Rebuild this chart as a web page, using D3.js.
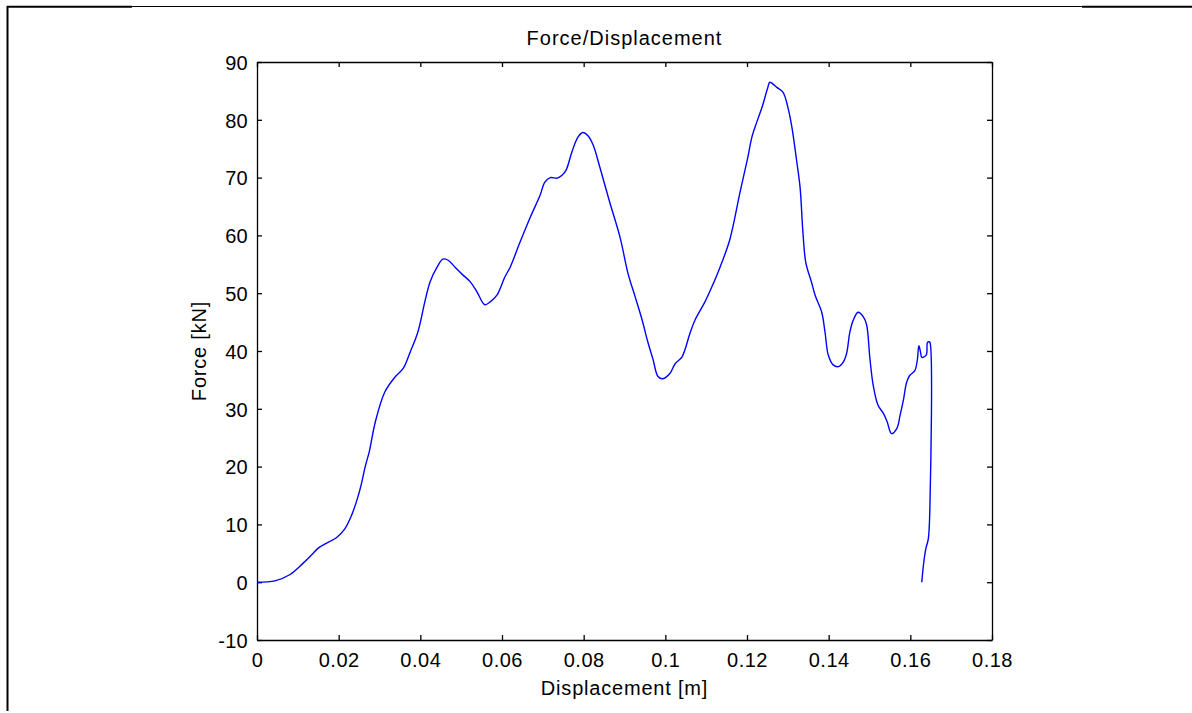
<!DOCTYPE html>
<html>
<head>
<meta charset="utf-8">
<script src="https://cdn.jsdelivr.net/npm/d3@7"></script>
<style>
  html, body { margin: 0; padding: 0; background: #fff; }
  svg { display: block; }
  text { font-family: "Liberation Sans", Arial, sans-serif; fill: #000; }
</style>
</head>
<body>
<svg id="chart" width="1192" height="713"></svg>
<script>
// ---- data ----
const displacement = [
  0, 0.0044, 0.0081, 0.0113, 0.0134, 0.0150, 0.0175, 0.0195, 0.0215, 0.0232,
  0.0246, 0.0256, 0.0265, 0.0275, 0.0290, 0.0313, 0.0338, 0.0358, 0.0375, 0.0394,
  0.0411, 0.0424, 0.0441, 0.0455, 0.0468, 0.0485, 0.0502, 0.0522, 0.0539, 0.0558,
  0.0571, 0.0588, 0.0607, 0.0620, 0.0644, 0.0669, 0.0693, 0.0705, 0.0718, 0.0735,
  0.0747, 0.0757, 0.0771, 0.0786, 0.0798, 0.0810, 0.0823, 0.0840, 0.0864, 0.0889,
  0.0909, 0.0926, 0.0943, 0.0957, 0.0970, 0.0982, 0.0994, 0.1011, 0.1024, 0.1041,
  0.1060, 0.1073, 0.1097, 0.1114, 0.1134, 0.1158, 0.1183, 0.1202, 0.1212, 0.1224,
  0.1237, 0.1251, 0.1256, 0.1273, 0.1288, 0.1300, 0.1310, 0.1322, 0.1330, 0.1337,
  0.1344, 0.1358, 0.1367, 0.1383, 0.1391, 0.1399, 0.1411, 0.1424, 0.1436, 0.1444,
  0.1452, 0.1460, 0.1472, 0.1485, 0.1493, 0.1501, 0.1509, 0.1521, 0.1534, 0.1543,
  0.1554, 0.1567, 0.1575, 0.1583, 0.1591, 0.1599, 0.1611, 0.1617, 0.1621, 0.1625,
  0.1628, 0.1636, 0.1640, 0.1642, 0.1646, 0.1648, 0.1648, 0.1644, 0.1638, 0.1633,
  0.1628
];
const force = [
  0, 0.24, 1.33, 3.3, 4.75, 5.9, 6.93, 7.74, 9.24, 11.65,
  14.5, 17.1, 20.0, 22.6, 27.8, 32.9, 35.5, 37.0, 39.8, 43.3,
  48.5, 52.0, 54.5, 55.9, 55.7, 54.5, 53.3, 52.0, 50.2, 48.0,
  48.5, 49.7, 52.8, 54.5, 58.8, 63.1, 66.9, 69.2, 70.0, 69.9,
  70.4, 71.3, 74.4, 77.0, 77.8, 77.3, 75.7, 71.7, 65.7, 59.7,
  53.3, 49.4, 45.4, 41.6, 38.5, 35.6, 35.2, 36.1, 37.8, 39.0,
  43.0, 45.4, 48.5, 51.1, 54.5, 59.3, 67.5, 73.5, 77.0, 79.6,
  82.2, 85.6, 86.5, 85.6, 84.8, 82.2, 78.7, 72.7, 68.3, 60.5,
  55.3, 51.9, 49.6, 46.7, 43.3, 39.3, 37.6, 37.3, 38.1, 39.6,
  43.3, 45.3, 46.7, 45.9, 44.5, 38.7, 34.1, 30.6, 29.2, 27.8,
  25.7, 26.6, 28.9, 31.5, 34.6, 35.8, 36.6, 38.4, 40.9, 39.8,
  38.9, 39.1, 39.5, 41.5, 41.6, 41.5, 13.3, 7.5, 5.8, 3.5,
  0.0
];
const xTicks = [0, 0.02, 0.04, 0.06, 0.08, 0.1, 0.12, 0.14, 0.16, 0.18];
const xTickLabels = ["0", "0.02", "0.04", "0.06", "0.08", "0.1", "0.12", "0.14", "0.16", "0.18"];
const yTicks = [-10, 0, 10, 20, 30, 40, 50, 60, 70, 80, 90];
const yTickLabels = ["-10", "0", "10", "20", "30", "40", "50", "60", "70", "80", "90"];
const titleText = "Force/Displacement";
const xLabelText = "Displacement [m]";
const yLabelText = "Force [kN]";

// ---- layout ----
const L = 257, R = 992, T = 62, B = 640;
const svg = d3.select("#chart");

// page frame lines
const frame = svg.append("g");
frame.append("line").attr("x1", 7).attr("x2", 1192).attr("y1", 6.5).attr("y2", 6.5)
  .attr("stroke", "#000").attr("stroke-width", 1);
frame.append("line").attr("x1", 7).attr("x2", 132).attr("y1", 6.8).attr("y2", 6.8)
  .attr("stroke", "#000").attr("stroke-width", 2);
frame.append("line").attr("x1", 1082).attr("x2", 1192).attr("y1", 6.8).attr("y2", 6.8)
  .attr("stroke", "#000").attr("stroke-width", 2);
frame.append("line").attr("x1", 7.5).attr("x2", 7.5).attr("y1", 6).attr("y2", 711)
  .attr("stroke", "#000").attr("stroke-width", 2);

const x = d3.scaleLinear().domain([0, 0.18]).range([L, R]);
const y = d3.scaleLinear().domain([-10, 90]).range([B, T]);

const fontSize = 20;

// bottom axis
const gx = svg.append("g").attr("transform", `translate(0,${B})`)
  .call(d3.axisBottom(x).tickValues(xTicks).tickSizeInner(-5).tickSizeOuter(0)
    .tickFormat((d, i) => xTickLabels[i]));
gx.selectAll("text").attr("y", 27).attr("dy", 0).style("font-size", fontSize + "px")
  .style("letter-spacing", "0.5px");

// top axis
svg.append("g").attr("transform", `translate(0,${T})`)
  .call(d3.axisTop(x).tickValues(xTicks).tickSizeInner(-5).tickSizeOuter(0).tickFormat(""));

// left axis
const gy = svg.append("g").attr("transform", `translate(${L},0)`)
  .call(d3.axisLeft(y).tickValues(yTicks).tickSizeInner(-5).tickSizeOuter(0)
    .tickFormat((d, i) => yTickLabels[i]));
gy.selectAll("text").attr("x", -9).attr("dy", "0.36em").style("font-size", fontSize + "px")
  .style("letter-spacing", "0.3px");

// right axis
svg.append("g").attr("transform", `translate(${R},0)`)
  .call(d3.axisRight(y).tickValues(yTicks).tickSizeInner(-5).tickSizeOuter(0).tickFormat(""));

svg.selectAll(".domain, .tick line").attr("stroke", "#000").attr("stroke-width", 1.3);

// curve
const pts = displacement.map((d, i) => [d, force[i]]);
svg.append("path")
  .datum(pts)
  .attr("fill", "none")
  .attr("stroke", "#0000ff")
  .attr("stroke-width", 1.4)
  .attr("d", d3.line().curve(d3.curveCatmullRom.alpha(0.5)).x(d => x(d[0])).y(d => y(d[1])));

// texts
svg.append("text").attr("x", (L + R) / 2).attr("y", 45).attr("text-anchor", "middle")
  .style("font-size", "20px").style("letter-spacing", "1px").text(titleText);
svg.append("text").attr("x", (L + R) / 2).attr("y", 695).attr("text-anchor", "middle")
  .style("font-size", "20px").style("letter-spacing", "0.8px").text(xLabelText);
svg.append("text").attr("transform", `translate(206,${(T + B) / 2}) rotate(-90)`)
  .attr("text-anchor", "middle")
  .style("font-size", "20px").style("letter-spacing", "0.8px").text(yLabelText);
</script>
</body>
</html>
